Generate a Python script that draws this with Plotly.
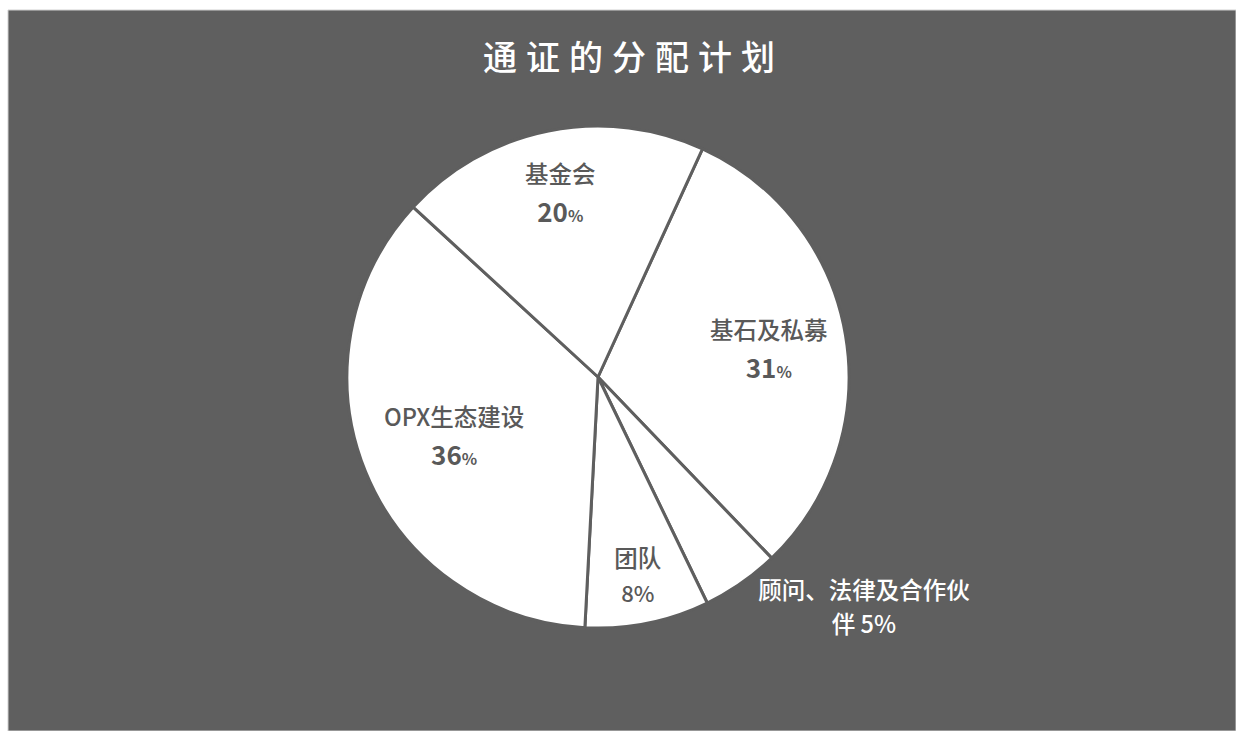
import math
import plotly.graph_objects as go

# ---- data ----
labels = ["基石及私募", "顾问、法律及合作伙伴", "团队", "OPX生态建设", "基金会"]
values = [31, 5, 8, 36, 20]
title_text = "通证的分配计划"

# ---- style ----
BG = "#5f5f5f"
TXT = "#595959"
FONT = "Noto Sans CJK SC"
W, H = 1236, 731
CX, CY, R = 598, 377, 251          # pie centre / radius in px (layout)
ROT = 24.6
LBL = 23.5
label_radius = [0.69, 0, 0, 0.62, 0.75]   # radial placement of large-slice labels (fraction of R)

templates, positions, sizes = [], [], []
for lab, v in zip(labels, values):
    if v < 6:
        templates.append(f"<span style='font-size:{LBL}px'>" + lab[:-1] + "</span><br>"
                         f"<span style='font-size:{LBL}px'>" + lab[-1] + " %{value}%</span>")
        positions.append("outside")
        sizes.append(26)
    elif v < 10:
        templates.append(f"<span style='font-size:{LBL}px'>%{{label}}</span><br>"
                         "<span style='font-size:22px'>%{value}%</span>")
        positions.append("inside")
        sizes.append(27)
    else:
        templates.append("")
        positions.append("none")
        sizes.append(30)

fig = go.Figure(go.Pie(
    labels=labels,
    values=values,
    sort=False,
    direction="clockwise",
    rotation=ROT,
    texttemplate=templates,
    textposition=positions,
    insidetextorientation="horizontal",
    insidetextfont=dict(family=FONT, color=TXT, size=sizes, weight=500),
    outsidetextfont=dict(family=FONT, color="white", size=sizes, weight=500),
    marker=dict(colors=["white"] * len(values), line=dict(color=BG, width=3)),
    domain=dict(x=[(CX - R) / W, (CX + R) / W], y=[1 - (CY + R) / H, 1 - (CY - R) / H]),
    hoverinfo="skip",
    showlegend=False,
))

# labels for the large slices, placed along each slice's bisector
annotations = []
total = sum(values)
start = ROT
for lab, v, rf in zip(labels, values, label_radius):
    mid = start + v / total * 360 / 2
    start += v / total * 360
    if v < 10:
        continue
    a = math.radians(mid)
    px = CX + rf * R * math.sin(a)
    py = CY - rf * R * math.cos(a)
    annotations.append(dict(
        x=px / W, y=1 - py / H, xref="paper", yref="paper",
        xanchor="center", yanchor="middle", showarrow=False,
        text=(f"<span style='font-size:{LBL}px'>{lab}</span><br>"
              f"<b><span style='font-size:26px'>{v}</span><span style='font-size:16px'>%</span></b>"),
        font=dict(family=FONT, size=30, color=TXT, weight=500),
    ))

spacer = "<span style='font-size:40px'>\u00a0</span>"
fig.update_layout(
    width=W, height=H,
    margin=dict(l=0, r=0, t=0, b=0),
    paper_bgcolor="white",
    title=dict(
        text=spacer.join(title_text),
        font=dict(family=FONT, size=34, color="white", weight=500),
        x=629 / W, xanchor="center", xref="container",
        y=1 - 58 / H, yanchor="middle", yref="container",
    ),
    annotations=annotations,
    shapes=[dict(type="rect", xref="paper", yref="paper",
                 x0=8 / W, x1=1, y0=0, y1=1 - 10 / H,
                 fillcolor=BG, line=dict(color="#d0d0d0", width=1), layer="below")],
)

fig.write_html("out.html")
